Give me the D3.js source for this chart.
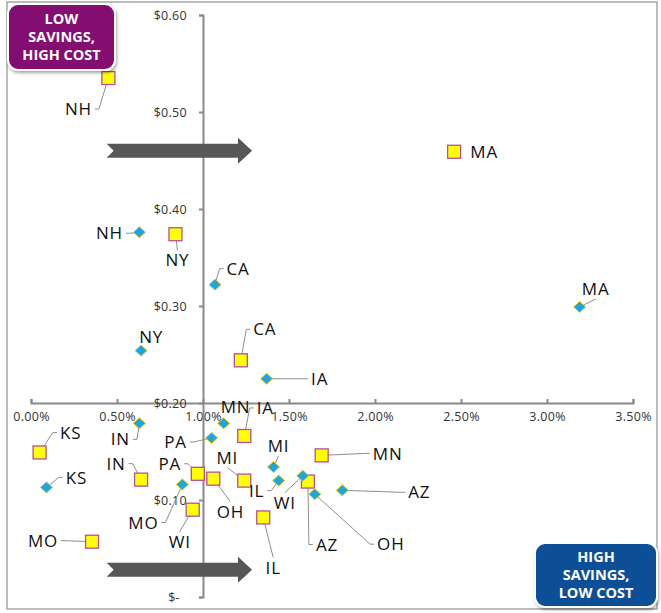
<!DOCTYPE html>
<html>
<head>
<meta charset="utf-8">
<script src="https://cdn.jsdelivr.net/npm/d3@7"></script>
<style>
  html, body { margin: 0; padding: 0; background: #fff; }
  svg { display: block; }
</style>
</head>
<body>
<svg id="chart" width="661" height="613"></svg>
<script>
// Savings (% of spend) versus cost per unit, two programs per state
const squareStates  = ["NH","MA","NY","CA","IA","KS","IN","MO","PA","OH","WI","MI","IL","MN","AZ"];
const squareSavings = [0.45, 2.46, 0.84, 1.22, 1.24, 0.05, 0.64, 0.355, 0.97, 1.06, 0.94, 1.24, 1.35, 1.69, 1.61];
const squareCost    = [0.535, 0.459, 0.374, 0.244, 0.166, 0.149, 0.121, 0.057, 0.127, 0.122, 0.090, 0.120, 0.082, 0.146, 0.119];

const diamondStates  = ["NH","NY","CA","IA","MA","MN","IN","PA","KS","MO","MI","IL","WI","OH","AZ"];
const diamondSavings = [0.63, 0.64, 1.07, 1.37, 3.19, 1.12, 0.63, 1.05, 0.09, 0.88, 1.41, 1.44, 1.58, 1.65, 1.81];
const diamondCost    = [0.376, 0.254, 0.322, 0.225, 0.299, 0.179, 0.179, 0.164, 0.113, 0.116, 0.134, 0.120, 0.125, 0.106, 0.110];

const xTicks = [0, 0.5, 1.0, 1.5, 2.0, 2.5, 3.0, 3.5];
const yTicks = [0, 0.1, 0.2, 0.3, 0.4, 0.5, 0.6];

const topLeftText = ["LOW", "SAVINGS,", "HIGH COST"];
const bottomRightText = ["HIGH", "SAVINGS,", "LOW COST"];

// Label placement: offset from the marker (px) and where the leader line attaches
const squareLabelLayout = [
  [-30, 31, "side"], [30, 0, ""], [2, 26, "top"], [24, -31, "side"], [21, -28, "side"],
  [31, -20, "side"], [-25, -16, "side"], [-49, -1, "side"], [-28, -10, "side"], [17, 33, "top"],
  [-13, 32, "top"], [-17, -23, "bottom"], [10, 50, "top"], [66, -2, "side"], [19, 63, "side"]
];
const diamondLabelLayout = [
  [-30, 1, "side"], [10, -14, ""], [23, -16, "side"], [53, 0, "side"], [16, -18, "bottom"],
  [12, -16, ""], [-19, 16, "side"], [-36, 4, "side"], [30, -10, "side"], [-39, 38, "side"],
  [5, -21, "bottom"], [-22, 10, "side"], [-18, 27, "top"], [76, 50, "side"], [77, 2, "side"]
];

const svg = d3.select("#chart");
const x = d3.scaleLinear().domain([0, 3.5]).range([31, 633]);
const y = d3.scaleLinear().domain([0, 0.6]).range([597, 15]);

// outer frame
svg.append("rect").attr("x", 7).attr("y", 2).attr("width", 650).attr("height", 607)
  .attr("fill", "#fff").attr("stroke", "#a6a6a6").attr("stroke-width", 1.5);

const defs = svg.append("defs");
const shadow = defs.append("filter").attr("id", "shadow")
  .attr("x", "-20%").attr("y", "-20%").attr("width", "140%").attr("height", "150%");
shadow.append("feDropShadow").attr("dx", 1).attr("dy", 2).attr("stdDeviation", 1.5)
  .attr("flood-color", "#000").attr("flood-opacity", 0.35);

// axes crossing at 1.00% / $0.20
const axisColor = "#8a8a8a";
const xAxis = d3.axisBottom(x).tickValues(xTicks)
  .tickFormat(d => d3.format(".2f")(d) + "%")
  .tickSizeInner(-4).tickSizeOuter(-4).tickPadding(9);
const yAxis = d3.axisLeft(y).tickValues(yTicks)
  .tickFormat(d => d === 0 ? "$-\u00a0\u00a0" : "$" + d3.format(".2f")(d))
  .tickSizeInner(4).tickSizeOuter(4).tickPadding(12);

function styleAxis(g) {
  g.select(".domain").attr("stroke", axisColor).attr("stroke-width", 2);
  g.selectAll(".tick line").attr("stroke", axisColor).attr("stroke-width", 2);
  g.selectAll(".tick text").attr("fill", "#333")
    .style("font-family", "'Open Sans', sans-serif").style("font-size", "12.5px")
    .style("letter-spacing", "0.3px");
}
svg.append("g").attr("transform", `translate(0,${y(0.2)})`).call(xAxis).call(styleAxis);
svg.append("g").attr("transform", `translate(${x(1.0)},0)`).call(yAxis).call(styleAxis);

// direction arrows (savings increasing to the right)
const arrowLevels = [0.46, 0.028];
const arrowFrom = 0.44, arrowTo = 1.285;
arrowLevels.forEach(lv => {
  const x0 = x(arrowFrom), x1 = x(arrowTo), cy = y(lv);
  const shaft = 7, head = 13, headLen = 14, notch = 7;
  const pts = [
    [x0, cy - shaft], [x1 - headLen, cy - shaft], [x1 - headLen, cy - head], [x1, cy],
    [x1 - headLen, cy + head], [x1 - headLen, cy + shaft], [x0, cy + shaft], [x0 + notch, cy]
  ];
  svg.append("path").attr("d", "M" + pts.map(p => p.join(",")).join("L") + "Z")
    .attr("fill", "#575757");
});

// build point records
const squares = squareStates.map((s, i) => ({
  state: s, sx: x(squareSavings[i]), sy: y(squareCost[i]), layout: squareLabelLayout[i]
}));
const diamonds = diamondStates.map((s, i) => ({
  state: s, sx: x(diamondSavings[i]), sy: y(diamondCost[i]), layout: diamondLabelLayout[i]
}));
const all = squares.concat(diamonds);

const leaderG = svg.append("g");
const markG = svg.append("g");
const labelG = svg.append("g");

// state labels
labelG.selectAll("text").data(all).join("text")
  .attr("x", d => d.sx + d.layout[0])
  .attr("y", d => d.sy + d.layout[1])
  .attr("text-anchor", "middle")
  .attr("dy", "0.36em")
  .style("font-family", "'Open Sans', sans-serif")
  .style("font-size", "17px")
  .style("letter-spacing", "0.8px")
  .attr("fill", "#111")
  .text(d => d.state)
  .each(function (d) { d.w = this.getComputedTextLength(); });

// leader lines from label to marker
all.filter(d => d.layout[2]).forEach(d => {
  const lx = d.sx + d.layout[0], ly = d.sy + d.layout[1];
  const kind = d.layout[2];
  let pts;
  if (kind === "side") {
    const sgn = Math.sign(d.layout[0]);
    const ax = lx - sgn * (d.w / 2 + 3);
    pts = [[ax, ly], [ax - sgn * 4, ly], [d.sx, d.sy]];
  } else if (kind === "top") {
    pts = [[lx, ly - 10], [d.sx, d.sy]];
  } else {
    pts = [[lx, ly + 10], [d.sx, d.sy]];
  }
  leaderG.append("path").attr("d", d3.line()(pts))
    .attr("fill", "none").attr("stroke", "#8f8f8f").attr("stroke-width", 1);
});

// square markers
markG.selectAll("rect").data(squares).join("rect")
  .attr("x", d => d.sx - 6.5).attr("y", d => d.sy - 6.5)
  .attr("width", 13).attr("height", 13)
  .attr("fill", "#ffff00").attr("stroke", "#b5509b").attr("stroke-width", 1.3);

// diamond markers
markG.selectAll("path.dia").data(diamonds).join("path").attr("class", "dia")
  .attr("d", d => `M${d.sx},${d.sy - 5.5}L${d.sx + 6},${d.sy}L${d.sx},${d.sy + 5.5}L${d.sx - 6},${d.sy}Z`)
  .attr("fill", "#1aa6de").attr("stroke", "#e6c21a").attr("stroke-width", 1);

// quadrant call-out boxes
function callout(bx, by, bw, bh, fill, lines) {
  const g = svg.append("g");
  g.append("rect").attr("x", bx).attr("y", by).attr("width", bw).attr("height", bh)
    .attr("rx", 10).attr("fill", fill).attr("stroke", "#fff").attr("stroke-width", 2)
    .attr("filter", "url(#shadow)");
  lines.forEach((t, i) => {
    g.append("text").attr("x", bx + bw / 2).attr("y", by + bh / 2 + (i - 1) * 18)
      .attr("dy", "0.36em").attr("text-anchor", "middle")
      .style("font-family", "'Open Sans', sans-serif").style("font-size", "14.5px")
      .style("font-weight", "700").attr("fill", "#fff").text(t);
  });
}
callout(8, 4, 107, 66, "#830d6f", topLeftText);
callout(535, 543, 122, 64, "#0b4f97", bottomRightText);
</script>
</body>
</html>
